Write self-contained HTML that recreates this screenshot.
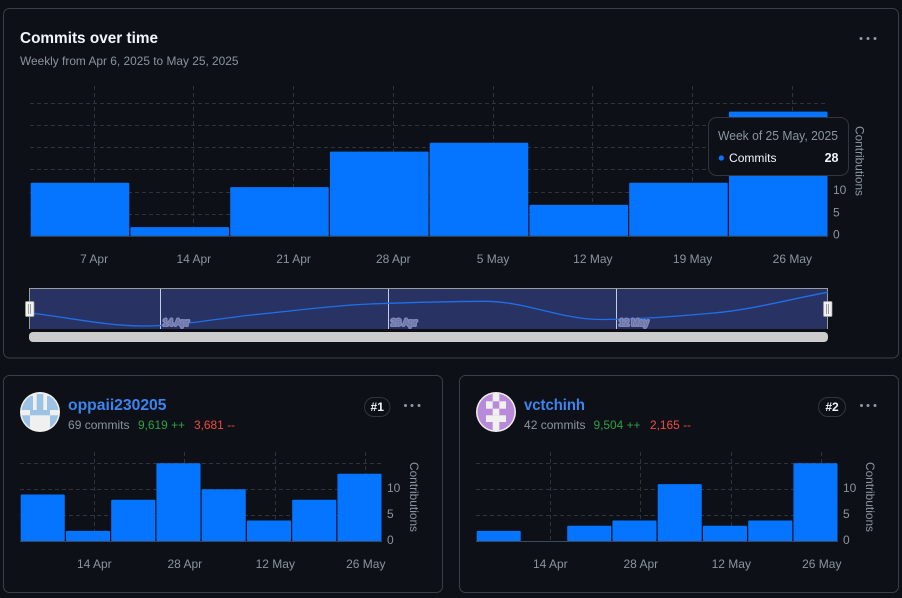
<!DOCTYPE html>
<html lang="en">
<head>
<meta charset="utf-8">
<title>Commits over time</title>
<style>
  html, body { margin: 0; padding: 0; background: #0d1117; }
  svg { display: block; font-family: "Liberation Sans", sans-serif; }
</style>
</head>
<body>
<svg id="page" width="902" height="598" viewBox="0 0 902 598">
  <defs>
    <clipPath id="avatar-clip-1"><circle cx="40" cy="412" r="18.5"/></clipPath>
    <clipPath id="avatar-clip-2"><circle cx="496" cy="412" r="18.5"/></clipPath>
  </defs>
  <rect x="0" y="0" width="902" height="598" fill="#0d1117"/>

  <rect x="3.5" y="8.5" width="895" height="349.5" rx="6" fill="#0d1117" stroke="#3a3f47"/>
  <text x="20" y="43" font-size="16" font-weight="700" fill="#f0f6fc" textLength="138" lengthAdjust="spacingAndGlyphs">Commits over time</text>
  <text x="20" y="65" font-size="12" fill="#8b949e" textLength="218.5" lengthAdjust="spacingAndGlyphs">Weekly from Apr 6, 2025 to May 25, 2025</text>
  <g fill="#9198a1">
    <circle cx="861" cy="38.5" r="1.5"/><circle cx="868" cy="38.5" r="1.5"/><circle cx="875" cy="38.5" r="1.5"/>
  </g>
  <g id="main-chart"></g>
  <g id="brush"></g>

  <g>
    <rect x="708.5" y="117.5" width="140" height="58" rx="8" fill="#0d1117" stroke="#30363d"/>
    <text x="718" y="140" font-size="12.5" fill="#8b949e" textLength="120" lengthAdjust="spacingAndGlyphs">Week of 25 May, 2025</text>
    <circle cx="721.3" cy="158" r="2.6" fill="#0575ff"/>
    <text x="729" y="162" font-size="12" fill="#f0f6fc" textLength="47.5" lengthAdjust="spacingAndGlyphs">Commits</text>
    <text x="838.5" y="162" font-size="12.5" font-weight="700" fill="#f0f6fc" text-anchor="end">28</text>
  </g>

  <rect x="3.5" y="375.5" width="439" height="217" rx="6" fill="#0d1117" stroke="#3a3f47"/>
  <g>
    <circle cx="40" cy="412" r="20" fill="#f0f0f0"/>
    <g fill="#9cc2e4" clip-path="url(#avatar-clip-1)">
      <rect x="20" y="396" width="13" height="14"/>
      <rect x="36.7" y="394" width="6.6" height="16"/>
      <rect x="47" y="396" width="13" height="14"/>
      <rect x="30" y="410" width="20" height="5.3"/>
      <rect x="20" y="415.3" width="10" height="16"/>
      <rect x="50" y="415.3" width="10" height="16"/>
    </g>
  </g>
  <text x="68" y="410" font-size="15.5" font-weight="700" fill="#3c84ef" textLength="98.5" lengthAdjust="spacingAndGlyphs">oppaii230205</text>
  <text x="68" y="429" font-size="12" fill="#8b949e" textLength="61.5" lengthAdjust="spacingAndGlyphs">69 commits</text>
  <text x="138" y="429" font-size="12" fill="#2ea043" textLength="47" lengthAdjust="spacingAndGlyphs">9,619 ++</text>
  <text x="194" y="429" font-size="12" fill="#f04a40" textLength="41" lengthAdjust="spacingAndGlyphs">3,681 --</text>
  <rect x="364.5" y="397.5" width="25.5" height="19" rx="9.5" fill="#0d1117" stroke="#30363d"/>
  <text x="377.2" y="411" font-size="12" font-weight="700" fill="#f0f6fc" text-anchor="middle">#1</text>
  <g fill="#9198a1">
    <circle cx="405.5" cy="405.5" r="1.5"/><circle cx="412" cy="405.5" r="1.5"/><circle cx="419" cy="405.5" r="1.5"/>
  </g>
  <g id="card-chart-1"></g>

  <rect x="459.5" y="375.5" width="439" height="217" rx="6" fill="#0d1117" stroke="#3a3f47"/>
  <g>
    <circle cx="496" cy="412" r="20" fill="#f0f0f0"/>
    <circle cx="496" cy="412" r="18.5" fill="#b98ad8"/>
    <g fill="#f0f0f0" clip-path="url(#avatar-clip-2)">
      <rect x="492.7" y="392.5" width="6.6" height="8.8"/>
      <rect x="486" y="401.3" width="6.7" height="7.4"/>
      <rect x="499.3" y="401.3" width="6.7" height="7.4"/>
      <rect x="492.7" y="408.7" width="6.6" height="6.6"/>
      <rect x="486" y="415.3" width="20" height="6.7"/>
      <rect x="492.7" y="422" width="6.6" height="9.5"/>
    </g>
  </g>
  <text x="524" y="410" font-size="15.5" font-weight="700" fill="#3c84ef" textLength="61" lengthAdjust="spacingAndGlyphs">vctchinh</text>
  <text x="524" y="429" font-size="12" fill="#8b949e" textLength="61.5" lengthAdjust="spacingAndGlyphs">42 commits</text>
  <text x="593.5" y="429" font-size="12" fill="#2ea043" textLength="47" lengthAdjust="spacingAndGlyphs">9,504 ++</text>
  <text x="650" y="429" font-size="12" fill="#f04a40" textLength="41" lengthAdjust="spacingAndGlyphs">2,165 --</text>
  <rect x="818.5" y="397.5" width="27" height="19" rx="9.5" fill="#0d1117" stroke="#30363d"/>
  <text x="832" y="411" font-size="12" font-weight="700" fill="#f0f6fc" text-anchor="middle">#2</text>
  <g fill="#9198a1">
    <circle cx="861.5" cy="405.5" r="1.5"/><circle cx="868" cy="405.5" r="1.5"/><circle cx="875" cy="405.5" r="1.5"/>
  </g>
  <g id="card-chart-2"></g>
</svg>

<script>
// Chart data
const commitValues = [12, 2, 11, 19, 21, 7, 12, 28];
const commitTickLabels = ['7 Apr', '14 Apr', '21 Apr', '28 Apr', '5 May', '12 May', '19 May', '26 May'];
const commitTickBands = [0, 1, 2, 3, 4, 5, 6, 7];
const commitGridValues = [5, 10, 15, 20, 25, 30];
const commitYLabels = [0, 5, 10, 15, 20, 25];

const oppaiiValues = [9, 2, 8, 15, 10, 4, 8, 13];
const vctchinhValues = [2, 0, 3, 4, 11, 3, 4, 15];
const cardTickLabels = ['14 Apr', '28 Apr', '12 May', '26 May'];
const cardTickBands = [1, 3, 5, 7];
const cardGridValues = [5, 10, 15];
const cardYLabels = [0, 5, 10];

const brushTickLabels = ['14 Apr', '28 Apr', '12 May'];
const brushTickWeeks = [1.143, 3.143, 5.143];

const NS = 'http://www.w3.org/2000/svg';
function mk(parent, tag, attrs, text) {
  const el = document.createElementNS(NS, tag);
  for (const k in attrs) el.setAttribute(k, attrs[k]);
  if (text !== undefined) el.textContent = text;
  parent.appendChild(el);
  return el;
}

function drawBarChart(root, values, frame, gridValues, yLabels, tickBands, tickLabels) {
  const band = (frame.right - frame.left) / values.length;
  const xBand = i => frame.left + i * band;
  const xTick = i => frame.left + (i + frame.tickOffset) * band;
  const y = v => frame.baseline - v * frame.unit;

  gridValues.forEach(v => {
    const el = mk(root, 'line', { x1: frame.left, x2: frame.gridRight, y1: Math.round(y(v)) + 0.5, y2: Math.round(y(v)) + 0.5, stroke: '#2f343c', 'stroke-dasharray': '4 3' });
    
    
  });

  tickBands.forEach((b, i) => {
    const gx = Math.floor(xTick(b)) + 0.5;
    const grid = mk(root, 'line', { x1: gx, x2: gx, y1: frame.gridTop, y2: frame.baseline, stroke: '#2f343c', 'stroke-dasharray': '4 3' });
    
    
    const label = mk(root, 'text', { x: xTick(b), y: frame.tickY, 'font-size': 12, fill: '#8b949e', 'text-anchor': 'middle' }, tickLabels[i]);
    
    
  });

  values.forEach((v, i) => {
    const h = v * frame.unit;
    const bar = mk(root, 'rect', { x: xBand(i) + 0.7, y: y(v), width: band - 1.2, height: h, rx: Math.min(1, h / 2), fill: '#0575ff' });
    
    
  });

  const axis = mk(root, 'line', { x1: frame.left, x2: frame.right, y1: frame.baseline + 0.25, y2: frame.baseline + 0.25, stroke: '#3a4a60', 'stroke-width': 1 });
  
  

  yLabels.forEach(v => {
    const label = mk(root, 'text', { x: frame.right + 5, y: y(v) + frame.yLabelShift, 'font-size': 12, fill: '#8b949e' }, String(v));
    
    
  });

  const title = mk(root, 'text', { transform: 'translate(' + frame.titleX + ',' + frame.titleY + ') rotate(90)', 'font-size': 12, fill: '#8b949e', 'text-anchor': 'middle', textLength: 70, lengthAdjust: 'spacingAndGlyphs' }, 'Contributions');
  
  
}

drawBarChart(document.getElementById('main-chart'), commitValues,
  { left: 30, right: 828, gridRight: 825, baseline: 236, unit: 4.44, gridTop: 86, tickY: 263, tickOffset: 0.6426, yLabelShift: 2.5, titleX: 855.5, titleY: 161 },
  commitGridValues, commitYLabels, commitTickBands, commitTickLabels);

drawBarChart(document.getElementById('card-chart-1'), oppaiiValues,
  { left: 20, right: 382, gridRight: 382, baseline: 541.3, unit: 5.2, gridTop: 452, tickY: 568, tickOffset: 0.642, yLabelShift: 2.5, titleX: 410, titleY: 497 },
  cardGridValues, cardYLabels, cardTickBands, cardTickLabels);

drawBarChart(document.getElementById('card-chart-2'), vctchinhValues,
  { left: 476, right: 838, gridRight: 838, baseline: 541.3, unit: 5.2, gridTop: 452, tickY: 568, tickOffset: 0.642, yLabelShift: 2.5, titleX: 866, titleY: 497 },
  cardGridValues, cardYLabels, cardTickBands, cardTickLabels);

// Monotone cubic path through the weekly values (same data as the main bars)
function monotonePath(pts) {
  const n = pts.length;
  const dx = [], slope = [], tan = [];
  for (let i = 0; i < n - 1; i++) {
    dx[i] = pts[i + 1][0] - pts[i][0];
    slope[i] = (pts[i + 1][1] - pts[i][1]) / dx[i];
  }
  tan[0] = slope[0];
  tan[n - 1] = slope[n - 2];
  for (let i = 1; i < n - 1; i++) {
    tan[i] = slope[i - 1] * slope[i] <= 0 ? 0
      : 2 * slope[i - 1] * slope[i] / (slope[i - 1] + slope[i]);
  }
  let d = 'M' + pts[0][0] + ',' + pts[0][1];
  for (let i = 0; i < n - 1; i++) {
    const h = dx[i] / 3;
    d += 'C' + (pts[i][0] + h) + ',' + (pts[i][1] + tan[i] * h) + ' ' +
      (pts[i + 1][0] - h) + ',' + (pts[i + 1][1] - tan[i + 1] * h) + ' ' +
      pts[i + 1][0] + ',' + pts[i + 1][1];
  }
  return d;
}

(function drawBrush() {
  const root = document.getElementById('brush');
  const left = 30, right = 828, top = 288.5, bottom = 329;
  const step = (right - left) / (commitValues.length - 1);
  const bx = i => left + i * step;
  const by = v => 328.6 - v * 1.3;

  const area = mk(root, 'rect', { x: left, y: top, width: right - left, height: bottom - top, fill: '#293363' });
  
  

  const frame = mk(root, 'path', { d: 'M29.5,329V288.5H827.5V329', fill: 'none', stroke: '#9a9e9a' });
  
  

  brushTickWeeks.forEach((w, i) => {
    const tx = Math.round(bx(w)) + 0.5;
    const tick = mk(root, 'line', { x1: tx, x2: tx, y1: top + 0.5, y2: bottom, stroke: '#c5cbe8' });
    
    
  });

  const pts = commitValues.map((v, i) => [bx(i), by(v)]);
  const line = mk(root, 'path', { d: monotonePath(pts), fill: 'none', stroke: '#1f6feb', 'stroke-width': 1.3 });
  
  

  brushTickWeeks.forEach((w, i) => {
    const label = mk(root, 'text', { x: Math.round(bx(w)) + 3, y: 325.5, 'font-size': 9, fill: '#666e98', stroke: '#7f87bd', 'stroke-width': 3, 'stroke-linejoin': 'round', 'paint-order': 'stroke' }, brushTickLabels[i]);
    
    
  });

  [left - 0.5, right - 0.5].forEach((hx, i) => {
    const handle = mk(root, 'rect', { x: hx - 4, y: 301.5, width: 8.5, height: 15, rx: 1, fill: '#f0f0f0', stroke: '#a0a0a0', 'stroke-width': 0.7 });
    
    
    const grip = mk(root, 'path', { d: 'M' + (hx - 1) + ',304V314M' + (hx + 1) + ',304V314', stroke: '#8a8a8a', 'stroke-width': 0.8 });
    
    
  });

  const scroll = mk(root, 'rect', { x: 29, y: 332, width: 799, height: 10, rx: 4, fill: '#cccccc' });
  
  
})();
</script>
</body>
</html>
